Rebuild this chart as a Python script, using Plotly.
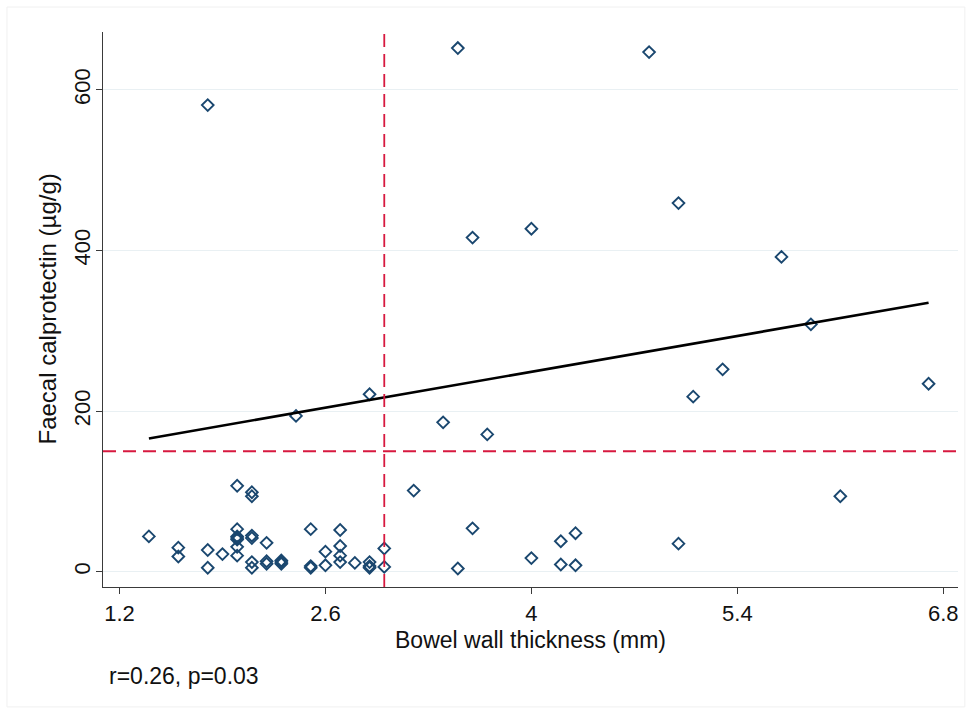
import plotly.graph_objects as go

# Data
bwt_mm = [1.4, 1.6, 1.6, 1.8, 1.8, 1.8, 1.9,
          2.0, 2.0, 2.0, 2.0, 2.0, 2.0, 2.0,
          2.1, 2.1, 2.1, 2.1, 2.1, 2.1,
          2.2, 2.2, 2.2, 2.3, 2.3, 2.3, 2.4,
          2.5, 2.5, 2.5, 2.6, 2.6,
          2.7, 2.7, 2.7, 2.7, 2.8,
          2.9, 2.9, 2.9, 2.9, 3.0, 3.0,
          3.2, 3.4, 3.5, 3.5, 3.6, 3.6, 3.7,
          4.0, 4.0, 4.2, 4.2, 4.3, 4.3,
          4.8, 5.0, 5.0, 5.1, 5.3, 5.7, 5.9, 6.1, 6.7]
fc_ugg = [44, 30, 19, 581, 27, 5, 22,
          107, 53, 44, 42, 40, 31, 20,
          99, 94, 45, 42, 12, 5,
          36, 13, 10, 14, 12, 10, 194,
          53, 7, 5, 25, 8,
          52, 32, 20, 12, 11,
          221, 12, 7, 5, 29, 6,
          101, 186, 652, 4, 416, 54, 171,
          427, 17, 38, 9, 48, 8,
          647, 459, 35, 218, 252, 392, 308, 94, 234]

fit_x = [1.4, 6.7]
fit_y = [166, 335]

cutoff_x = 3.0
cutoff_y = 150

x_ticks = [1.2, 2.6, 4, 5.4, 6.8]
x_tick_labels = ["1.2", "2.6", "4", "5.4", "6.8"]
y_ticks = [0, 200, 400, 600]
y_tick_labels = ["0", "200", "400", "600"]

x_range = [1.088, 6.9]
y_range = [-19, 672]

FONT = "Liberation Sans, Arial, Helvetica, sans-serif"
NAVY = "#1a476f"
RED = "#d7193f"

fig = go.Figure()

fig.add_trace(go.Scatter(
    x=bwt_mm, y=fc_ugg, mode="markers",
    marker=dict(symbol="diamond-open", size=9, color=NAVY,
                line=dict(color=NAVY, width=1.9)),
    showlegend=False, hoverinfo="x+y"))

fig.add_trace(go.Scatter(
    x=fit_x, y=fit_y, mode="lines",
    line=dict(color="black", width=2.6),
    showlegend=False))

# reference cut-off lines
fig.add_shape(type="line", xref="x", yref="paper", x0=cutoff_x, x1=cutoff_x,
              y0=0, y1=1, line=dict(color=RED, width=1.8, dash="13px,7px"))
fig.add_shape(type="line", xref="paper", yref="y", x0=0, x1=1,
              y0=cutoff_y, y1=cutoff_y, line=dict(color=RED, width=1.8, dash="13px,7px"))

# faint outer frame
fig.add_shape(type="rect", xref="paper", yref="paper",
              x0=-0.1123, x1=1.008, y0=-0.216, y1=1.045,
              line=dict(color="#f0f0f0", width=1), layer="below")

fig.update_layout(
    width=972, height=714, autosize=False,
    margin=dict(l=103, r=14, t=32, b=127),
    paper_bgcolor="white", plot_bgcolor="white",
    font=dict(family=FONT, size=22, color="#111111"),
    xaxis=dict(range=x_range, tickmode="array", tickvals=x_ticks,
               ticktext=x_tick_labels, showgrid=False, zeroline=False,
               showline=True, linecolor="#3a3a3a", linewidth=1.2,
               ticks="outside", ticklen=6, tickcolor="#3a3a3a", tickwidth=1.2,
               tickfont=dict(size=22, family=FONT, color="#111111")),
    yaxis=dict(range=y_range, tickmode="array", tickvals=y_ticks,
               ticktext=y_tick_labels, showgrid=True, gridcolor="#e9f0f3",
               gridwidth=1.2, zeroline=False,
               showline=True, linecolor="#3a3a3a", linewidth=1.2,
               ticks="outside", ticklen=6, tickcolor="#3a3a3a", tickwidth=1.2,
               tickangle=-90, ticklabelstandoff=-3,
               tickfont=dict(size=22, family=FONT, color="#111111")),
)

fig.add_annotation(text="Bowel wall thickness (mm)", xref="paper", yref="paper",
                   x=0.5, y=0, yshift=-53, xanchor="center", yanchor="middle",
                   showarrow=False, font=dict(size=23, family=FONT, color="#111111"))
fig.add_annotation(text="Faecal calprotectin (µg/g)", xref="paper", yref="paper",
                   x=0, y=0.5, xshift=-56, xanchor="center", yanchor="middle",
                   textangle=-90, showarrow=False,
                   font=dict(size=24, family=FONT, color="#111111"))
fig.add_annotation(text="r=0.26, p=0.03", xref="paper", yref="paper",
                   x=0, y=0, xshift=4, yshift=-89, xanchor="left", yanchor="middle",
                   showarrow=False, font=dict(size=23, family=FONT, color="#111111"))

fig.write_html("out.html")
